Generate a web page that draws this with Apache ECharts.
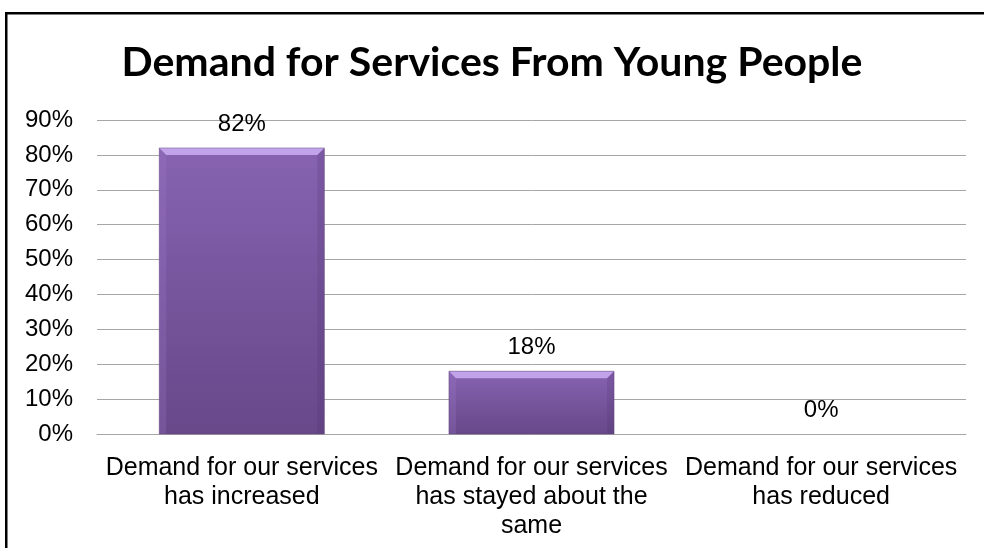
<!DOCTYPE html>
<html>
<head>
<meta charset="utf-8">
<style>
  html, body { margin: 0; padding: 0; background: #ffffff; }
  #chart { width: 984px; height: 548px; }
</style>
<script src="https://cdn.jsdelivr.net/npm/echarts@6/dist/echarts.min.js"></script>
</head>
<body>
<div id="chart"></div>
<script>
// Survey responses: how demand from young people has changed
const categories = [
  'Demand for our services\nhas increased',
  'Demand for our services\nhas stayed about the\nsame',
  'Demand for our services\nhas reduced'
];
const shares = [82, 18, 0];
const yTicks = [0, 10, 20, 30, 40, 50, 60, 70, 80, 90];

const chart = echarts.init(document.getElementById('chart'));

const barWidthRatio = 0.57;

// Bevel highlight drawn over each bar
function bevelItem(params, api) {
  const v = api.value(1);
  if (!v) return null;
  const top = api.coord([api.value(0), v]);
  const base = api.coord([api.value(0), 0]);
  const w = api.size([1, 0])[0] * barWidthRatio;
  const x0 = top[0] - w / 2, x1 = top[0] + w / 2;
  const y0 = top[1], y1 = base[1];
  const b = 7;
  return {
    type: 'group',
    children: [
      { type: 'polygon', shape: { points: [[x0, y0], [x1, y0], [x1 - b, y0 + b], [x0 + b, y0 + b]] },
        style: { fill: 'rgba(205,175,245,0.85)' } },
      { type: 'polygon', shape: { points: [[x0, y0], [x0 + b, y0 + b], [x0 + b, y1], [x0, y1]] },
        style: { fill: 'rgba(160,125,205,0.25)' } },
      { type: 'polygon', shape: { points: [[x1, y0], [x1, y1], [x1 - b, y1], [x1 - b, y0 + b]] },
        style: { fill: 'rgba(70,45,100,0.18)' } },
      { type: 'rect', shape: { x: x0, y: y0, width: w, height: y1 - y0 },
        style: { fill: 'none', stroke: 'rgba(90,65,120,0.45)', lineWidth: 1 } }
    ]
  };
}

chart.setOption({
  animation: false,
  backgroundColor: '#ffffff',
  title: {
    text: 'Demand for Services From Young People',
    left: 'center',
    top: 37,
    textStyle: { fontFamily: 'Lato', fontWeight: 'bold', fontSize: 41, color: '#000000' }
  },
  graphic: [
    { type: 'rect', shape: { x: 5, y: 12, width: 990, height: 2.5 }, style: { fill: '#000' } },
    { type: 'rect', shape: { x: 5, y: 12, width: 2.5, height: 560 }, style: { fill: '#000' } }
  ],
  grid: { left: 97, right: 18, top: 120, bottom: 114 },
  xAxis: {
    type: 'category',
    data: categories,
    axisLine: { show: true, lineStyle: { color: '#a6a6a6', width: 1 } },
    axisTick: { show: false },
    axisLabel: {
      interval: 0,
      margin: 20,
      fontFamily: 'Liberation Sans',
      fontSize: 25,
      lineHeight: 29,
      color: '#000000',
      align: 'center'
    }
  },
  yAxis: {
    type: 'value',
    min: yTicks[0],
    max: yTicks[yTicks.length - 1],
    interval: yTicks[1] - yTicks[0],
    axisLine: { show: false },
    axisTick: { show: false },
    splitLine: { lineStyle: { color: '#a6a6a6', width: 1 } },
    axisLabel: {
      formatter: v => v + '%',
      margin: 24,
      fontFamily: 'Liberation Sans',
      fontSize: 24,
      color: '#000000'
    }
  },
  series: [
    {
      type: 'bar',
      data: shares,
      barWidth: (barWidthRatio * 100) + '%',
      itemStyle: {
        color: new echarts.graphic.LinearGradient(0, 0, 0, 1, [
          { offset: 0, color: '#8763b1' },
          { offset: 1, color: '#674889' }
        ])
      },
      label: {
        show: true,
        position: 'top',
        distance: 12,
        formatter: p => p.value + '%',
        fontFamily: 'Liberation Sans',
        fontSize: 24,
        color: '#000000'
      },
      z: 2
    },
    {
      type: 'custom',
      renderItem: bevelItem,
      data: shares.map((v, i) => [i, v]),
      silent: true,
      z: 3
    }
  ]
});
</script>
</body>
</html>
